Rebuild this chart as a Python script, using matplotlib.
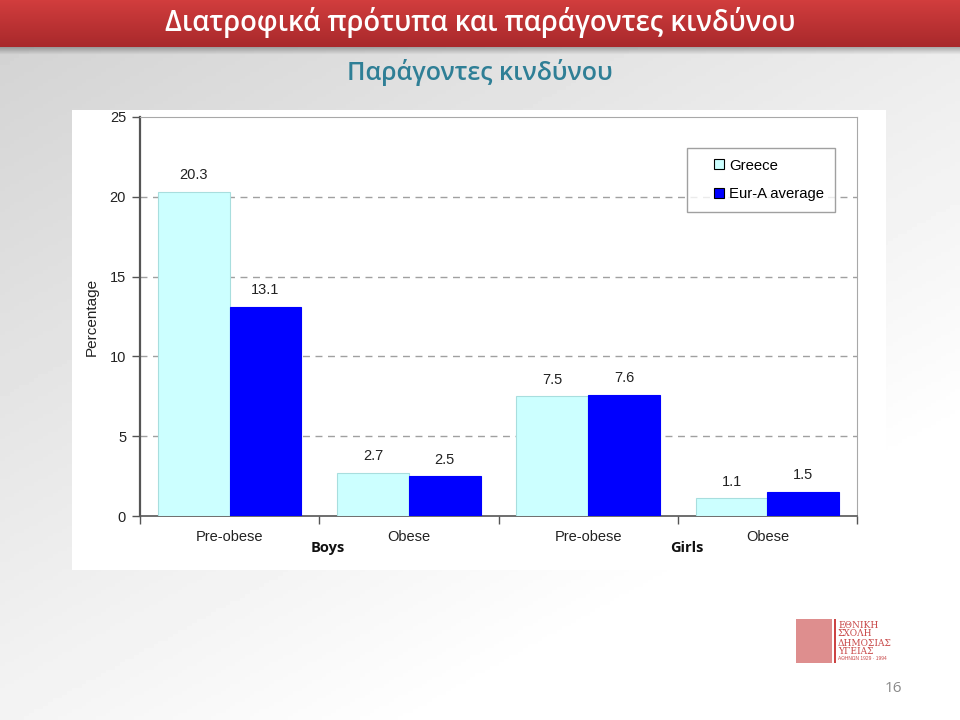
import numpy as np
import matplotlib.pyplot as plt
from matplotlib.patches import Rectangle
from matplotlib.lines import Line2D
from matplotlib.transforms import blended_transform_factory

# chart data
groups = ["Boys", "Girls"]
categories = ["Pre-obese", "Obese", "Pre-obese", "Obese"]
greece = [20.3, 2.7, 7.5, 1.1]
eur_a = [13.1, 2.5, 7.6, 1.5]
series_names = ["Greece", "Eur-A average"]
yticks = [0, 5, 10, 15, 20, 25]

title = "Διατροφικά πρότυπα και παράγοντες κινδύνου"
subtitle = "Παράγοντες κινδύνου"
logo_lines = ["ΕΘΝΙΚΗ", "ΣΧΟΛΗ", "ΔΗΜΟΣΙΑΣ", "ΥΓΕΙΑΣ"]
page_no = "16"

c_greece = '#ccffff'
c_eur = '#0000ff'

plt.rcParams['font.family'] = ['Liberation Sans', 'DejaVu Sans']

fig = plt.figure(figsize=(9.6, 7.2), dpi=100)

# slide background: soft gray gradient fading to white
bg = fig.add_axes([0, 0, 1, 1], zorder=-10)
yy, xx = np.mgrid[0:1:200j, 0:1:200j]
shade = 0.82 + 0.18 * np.clip(0.55 * xx + 0.75 * yy, 0, 1)
bg.imshow(shade, cmap='gray', vmin=0, vmax=1, extent=[0, 1, 0, 1],
          aspect='auto', origin='upper')

# red title bar with a slight vertical gradient
bar_grad = np.linspace(0, 1, 50).reshape(-1, 1)
top_col = np.array([0.82, 0.24, 0.24])
bot_col = np.array([0.66, 0.16, 0.17])
bar_img = top_col + (bot_col - top_col) * bar_grad[..., None]
bg.imshow(bar_img, extent=[0, 1, 1 - 47 / 720, 1], aspect='auto',
          origin='upper', zorder=2)
# shadow under the bar
sh = np.linspace(0.55, 0.0, 10).reshape(-1, 1)
sh_img = np.zeros((10, 1, 4))
sh_img[..., 3] = sh * 0.5
bg.imshow(sh_img, extent=[0, 1, 1 - 55 / 720, 1 - 47 / 720], aspect='auto',
          origin='upper', zorder=2)
bg.set_xlim(0, 1)
bg.set_ylim(0, 1)
bg.axis('off')

fig.text(0.5, 1 - 22 / 720, title, color='white', fontsize=19.8,
         fontweight='semibold', family=['Open Sans', 'DejaVu Sans'],
         ha='center', va='center')
fig.text(0.5, 1 - 73 / 720, subtitle, color='#2f7f96', fontsize=18,
         fontweight='semibold', family=['Open Sans', 'DejaVu Sans'],
         ha='center', va='center')

# white chart panel
fig.patches.append(Rectangle((72 / 960, 1 - 570 / 720), 814 / 960, 460 / 720,
                             transform=fig.transFigure, facecolor='white',
                             edgecolor='none', zorder=-5))

ax = fig.add_axes([140 / 960, 1 - 516 / 720, 717 / 960, 399 / 720])
ax.set_facecolor('white')

x = np.arange(len(categories))
w = 0.4
b1 = ax.bar(x - w / 2, greece, w, color=c_greece, edgecolor='#a8dede',
            linewidth=0.8, zorder=3)
b2 = ax.bar(x + w / 2, eur_a, w, color=c_eur, edgecolor=c_eur,
            linewidth=0.8, zorder=3)

for bars in (b1, b2):
    for r in bars:
        ax.text(r.get_x() + r.get_width() / 2, r.get_height() + 0.6,
                f"{r.get_height():.1f}", ha='center', va='bottom',
                fontsize=10.5, color='#222222')

ax.set_xlim(-0.5, len(categories) - 0.5)
ax.set_ylim(0, 25)
ax.set_yticks(yticks)
ax.set_yticklabels([str(t) for t in yticks], fontsize=10.5, color='#222222')
ax.tick_params(axis='y', length=6, width=1, color='#555555', pad=4)

ax.set_xticks(np.arange(-0.5, len(categories), 1.0))
ax.set_xticklabels([])
ax.set_xticks(x, minor=True)
ax.set_xticklabels(categories, minor=True, fontsize=10.5, color='#222222')
ax.tick_params(axis='x', which='major', length=6, width=1, color='#555555')
ax.tick_params(axis='x', which='minor', length=0, pad=10)

for g, gx in zip(groups, [0.55, 2.55]):
    ax.text(gx, -0.063, g, transform=blended_transform_factory(ax.transData, ax.transAxes),
            ha='center', va='top', fontsize=10.5, fontweight='bold',
            family=['Open Sans', 'DejaVu Sans'], color='#111111')

ax.set_ylabel("Percentage", fontsize=11, color='#222222', labelpad=8)

for yv in yticks[1:-1]:
    ax.axhline(yv, color='#a0a0a0', linewidth=1, linestyle=(0, (5, 4)), zorder=1)

ax.spines['left'].set_color('#555555')
ax.spines['left'].set_linewidth(1.6)
ax.spines['bottom'].set_color('#555555')
ax.spines['bottom'].set_linewidth(1.2)
ax.spines['top'].set_color('#a8a8a8')
ax.spines['right'].set_color('#a8a8a8')

handles = [Line2D([], [], linestyle='none', marker='s', markersize=7.2,
                  markerfacecolor=c, markeredgecolor='black', markeredgewidth=0.8)
           for c in (c_greece, c_eur)]
leg = ax.legend(handles, series_names, loc='upper right',
                bbox_to_anchor=(0.969, 0.922), fontsize=10.7,
                frameon=True, fancybox=False, edgecolor='#888888',
                handlelength=3.0, borderpad=0.7, labelspacing=1.0,
                handletextpad=-0.82, borderaxespad=0)
leg.get_frame().set_linewidth(1.0)

# logo in the bottom right corner
fig.patches.append(Rectangle((796 / 960, 1 - 663 / 720), 36 / 960, 44 / 720,
                             transform=fig.transFigure, facecolor='#d97a7a',
                             edgecolor='none', alpha=0.85))
fig.patches.append(Rectangle((834 / 960, 1 - 663 / 720), 1.5 / 960, 44 / 720,
                             transform=fig.transFigure, facecolor='#c44',
                             edgecolor='none'))
for i, line in enumerate(logo_lines):
    fig.text(838 / 960, 1 - (625 + i * 9) / 720, line, color='#c84848',
             fontsize=6.5, family=['DejaVu Serif'], ha='left', va='center')
fig.text(838 / 960, 1 - 658 / 720, "ΑΘΗΝΩΝ 1929 · 1994", color='#c84848',
         fontsize=3.5, ha='left', va='center')

fig.text(893 / 960, 1 - 688 / 720, page_no, color='#8a8a8a', fontsize=11,
         family=['Open Sans', 'DejaVu Sans'], ha='center', va='center')

fig.savefig('out.png', dpi=100)
